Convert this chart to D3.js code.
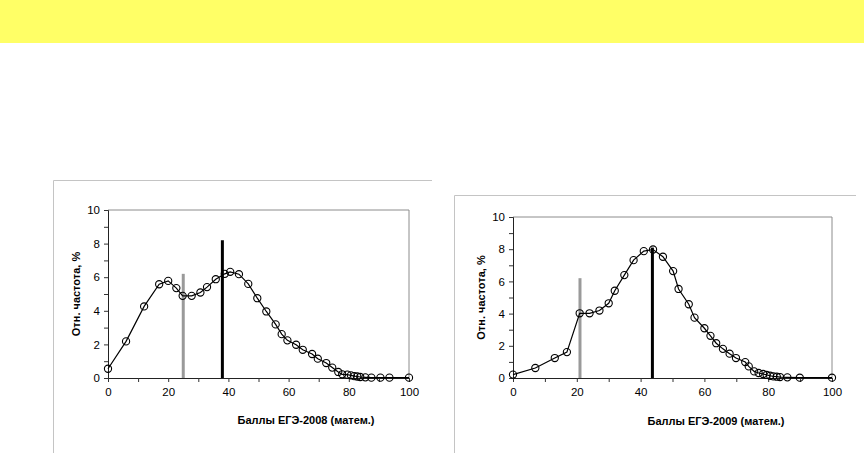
<!DOCTYPE html>
<html><head><meta charset="utf-8">
<script src="https://cdn.jsdelivr.net/npm/d3@7"></script>
<style>body{margin:0;background:#fff;}svg{display:block;}</style>
</head><body>
<svg id="c" width="865" height="453"></svg>
<script>
// Chart 1: ЕГЭ-2008
const x2008 = [0,6,12,17,20,22.7,24.8,27.8,30.7,32.9,35.8,38.8,40.6,43.5,46.6,49.6,52.6,55.7,57.7,59.6,62.5,64.7,67.8,69.7,72.5,74.5,76.5,77.8,79.5,80.7,81.8,82.8,83.8,85.5,87.5,90.5,93.5,100];
const y2008 = [0.55,2.18,4.26,5.58,5.78,5.35,4.89,4.89,5.09,5.41,5.88,6.2,6.32,6.18,5.6,4.75,3.96,3.19,2.61,2.24,1.98,1.68,1.43,1.15,0.89,0.62,0.36,0.22,0.2,0.16,0.11,0.09,0.06,0.04,0.02,0.02,0.02,0.02];
// Chart 2: ЕГЭ-2009
const x2009 = [0,7,13.1,16.9,20.9,24,27.1,30,31.9,34.9,37.8,41,43.9,47,50.2,51.9,55.1,56.9,60,61.9,63.7,65.8,67.9,69.9,72.8,73.9,75.6,77,78.4,79.5,80.6,81.6,82.7,83.7,86,89.9,100];
const y2009 = [0.21,0.62,1.24,1.61,4.02,4.02,4.19,4.64,5.42,6.39,7.32,7.88,7.98,7.53,6.64,5.53,4.58,3.75,3.09,2.62,2.16,1.81,1.51,1.24,0.99,0.72,0.41,0.31,0.25,0.19,0.14,0.1,0.08,0.06,0.04,0.02,0.02];
// Vertical markers [x, height]: gray (threshold), black (mean)
const marks2008 = [{x:25, h:6.2, c:"#9a9a9a"}, {x:38, h:8.2, c:"#000"}];
const marks2009 = [{x:21, h:6.2, c:"#9a9a9a"}, {x:43.7, h:8.1, c:"#000"}];
const xTicks = [0,20,40,60,80,100];
const yTicks = [0,2,4,6,8,10];
const yTitle = "Отн. частота, %";
const xTitle2008 = "Баллы ЕГЭ-2008 (матем.)";
const xTitle2009 = "Баллы ЕГЭ-2009 (матем.)";

const svg = d3.select("#c");
svg.append("rect").attr("x",0).attr("y",0).attr("width",864).attr("height",43).attr("fill","#ffff66");

function drawChart(o){
  const g = svg.append("g");
  // outer frame (left + top)
  g.append("line").attr("x1",o.fx).attr("x2",o.fx).attr("y1",o.fy).attr("y2",453).attr("stroke","#c4c4c4").attr("stroke-width",1);
  g.append("line").attr("x1",o.fx).attr("x2",o.fr).attr("y1",o.fy).attr("y2",o.fy).attr("stroke","#c4c4c4").attr("stroke-width",1);
  const x = d3.scaleLinear().domain([0,100]).range([o.l,o.r]);
  const y = d3.scaleLinear().domain([0,10]).range([o.b,o.t]);
  // plot border top/right
  g.append("path").attr("d",`M${o.l},${o.t}H${o.r}V${o.b}`).attr("fill","none").attr("stroke","#8c8c8c").attr("stroke-width",1);
  // axes
  const ya = g.append("g").attr("transform",`translate(${o.l},0)`)
    .call(d3.axisLeft(y).tickValues(d3.range(0,11,1)).tickSize(4).tickFormat(d=>yTicks.includes(d)?d:"").tickPadding(4));
  const xa = g.append("g").attr("transform",`translate(0,${o.b})`)
    .call(d3.axisBottom(x).tickValues(d3.range(0,101,10)).tickSize(4).tickFormat(d=>xTicks.includes(d)?d:"").tickPadding(6));
  [ya,xa].forEach(a=>{
    a.select(".domain").attr("stroke","#222");
    a.selectAll(".tick line").attr("stroke","#333");
    a.selectAll("text").attr("font-family","Liberation Sans, Arial, sans-serif").attr("font-size",11.5).attr("fill","#000");
  });
  // vertical marker lines
  g.selectAll("line.mk").data(o.marks).join("line").attr("class","mk")
    .attr("x1",d=>x(d.x)).attr("x2",d=>x(d.x)).attr("y1",y(0)).attr("y2",d=>y(d.h))
    .attr("stroke",d=>d.c).attr("stroke-width",3);
  const pts = o.xs.map((v,i)=>[v,o.ys[i]]);
  g.append("path").datum(pts).attr("d",d3.line().x(d=>x(d[0])).y(d=>y(d[1])))
    .attr("fill","none").attr("stroke","#000").attr("stroke-width",1.2);
  g.selectAll("circle").data(pts).join("circle")
    .attr("cx",d=>x(d[0])).attr("cy",d=>y(d[1])).attr("r",3.6)
    .attr("fill","none").attr("stroke","#000").attr("stroke-width",1.1);
  // titles
  g.append("text").attr("transform",`translate(${o.ytx},${(o.t+o.b)/2}) rotate(-90)`)
    .attr("text-anchor","middle").attr("font-family","Liberation Sans, Arial, sans-serif")
    .attr("font-size",11).attr("font-weight","bold").text(yTitle);
  g.append("text").attr("x",o.xtx).attr("y",o.xty).attr("text-anchor","middle")
    .attr("font-family","Liberation Sans, Arial, sans-serif").attr("font-size",11).attr("font-weight","bold").text(o.xTitle);
}

drawChart({fx:53.5, fy:180.5, fr:432, l:108, r:409, t:210, b:378, xs:x2008, ys:y2008, marks:marks2008, ytx:80, xtx:306, xty:424, xTitle:xTitle2008});
drawChart({fx:454.5, fy:195.5, fr:856, l:513, r:832, t:217, b:378, xs:x2009, ys:y2009, marks:marks2009, ytx:485, xtx:716, xty:425, xTitle:xTitle2009});
</script>
</body></html>
